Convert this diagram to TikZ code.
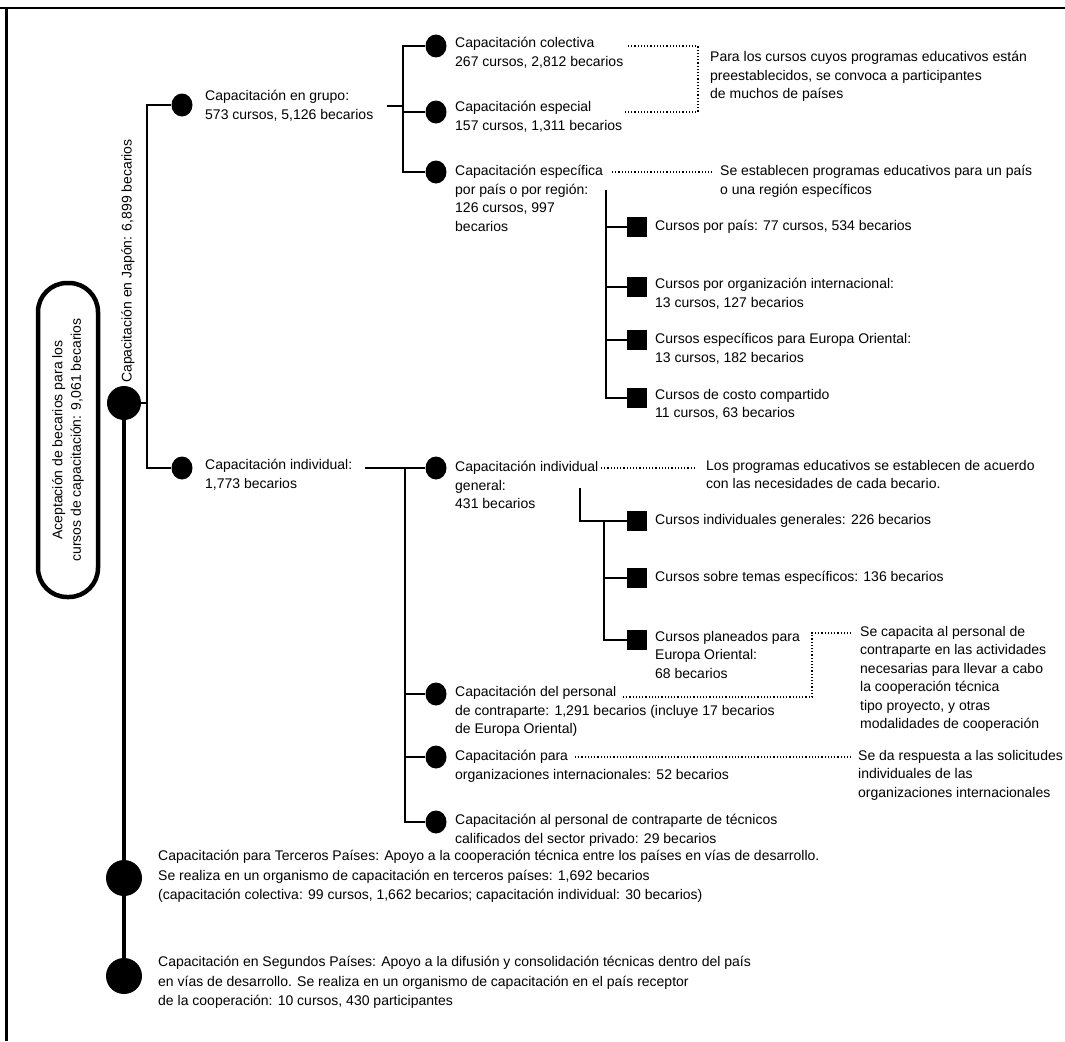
\documentclass[tikz,border=0pt]{standalone}
\usepackage{fontspec}
\setmainfont{Liberation Sans}
\usetikzlibrary{shapes.geometric}
\newcommand\lblfont{\fontsize{14}{18.5}\selectfont}
\begin{document}
\begin{tikzpicture}[x=1pt,y=-1pt,
  bigdot/.style={circle,fill=black,inner sep=0,minimum size=34pt},
  lowdot/.style={circle,fill=black,inner sep=0,minimum size=36pt},
  dotS/.style={ellipse,fill=black,inner sep=0,minimum width=21pt,minimum height=23pt},
  sq/.style={rectangle,fill=black,inner sep=0,minimum size=20pt},
  txt/.style={anchor=north west,inner sep=0,align=left,font=\lblfont},
  ln/.style={line width=2.5pt},
  trunk/.style={line width=4pt},
  dl/.style={dotted,line width=1.2pt}]
\useasboundingbox (0,0) rectangle (1065,1041);
% frame
\coordinate (ftl) at (6,8); \coordinate (ftr) at (1065,8); \coordinate (fbl) at (6,1041);
\coordinate (fl0) at (0,8);
\draw[line width=2pt] (fl0) -- (ftr);
\draw[line width=3pt] (ftl) -- (fbl);
% pill
\draw[line width=4.5pt,rounded corners=29pt] (38,283) rectangle (98,597);
\node[rotate=90,align=center,font=\lblfont,inner sep=0] (pill) at (68,440)
  {Aceptación de becarios para los\\cursos de capacitación: 9,061 becarios};
% dots
\node[bigdot] (root) at (124,403) {};
\node[dotS] (grp) at (182,105) {};
\node[dotS] (ind) at (182,468) {};
\node[dotS] (col) at (436,46) {};
\node[dotS] (esp) at (436,112) {};
\node[dotS] (epa) at (436,172) {};
\node[sq] (s1) at (637,227) {};
\node[sq] (s2) at (637,287) {};
\node[sq] (s3) at (637,340) {};
\node[sq] (s4) at (637,398) {};
\node[dotS] (ig) at (436,468) {};
\node[sq] (t1) at (637,521) {};
\node[sq] (t2) at (637,578) {};
\node[sq] (t3) at (637,640) {};
\node[dotS] (dp) at (436,694) {};
\node[dotS] (op) at (436,757) {};
\node[dotS] (ap) at (436,822) {};
\node[lowdot] (ter) at (124,878) {};
\node[lowdot] (seg) at (124,976) {};
% Japan text
\node[rotate=90,font=\lblfont,inner sep=0] (jap) at (128,261) {Capacitación en Japón: 6,899 becarios};
% connectors: root and Japan
\coordinate (rl) at (107,403); \coordinate (rr) at (147,403);
\coordinate (jtop) at (147,105); \coordinate (jbot) at (147,468);
\draw[ln] (rl) -- (rr);
\draw[ln] (grp) -- (jtop) -- (jbot) -- (ind);
\draw[trunk] (root) -- (ter);
\draw[trunk] (ter) -- (seg);
% group branch
\coordinate (g1) at (387,106); \coordinate (g2) at (403,106);
\coordinate (gt) at (403,46); \coordinate (gm) at (403,112); \coordinate (gb) at (403,172);
\draw[ln] (g1) -- (g2);
\draw[ln] (col) -- (gt) -- (gb) -- (epa);
\draw[ln] (gm) -- (esp);
% especifica branch
\coordinate (e0) at (606,190); \coordinate (e1) at (606,227); \coordinate (e2) at (606,287);
\coordinate (e3) at (606,340); \coordinate (e4) at (606,398);
\draw[ln] (e0) -- (e4) -- (s4);
\draw[ln] (e1) -- (s1);
\draw[ln] (e2) -- (s2);
\draw[ln] (e3) -- (s3);
% individual branch
\coordinate (i0) at (365,468); \coordinate (it) at (405,468); \coordinate (ib) at (405,822);
\coordinate (im) at (405,694); \coordinate (in) at (405,757);
\draw[ln] (i0) -- (ig);
\draw[ln] (it) -- (ib) -- (ap);
\draw[ln] (im) -- (dp);
\draw[ln] (in) -- (op);
% individual general branch
\coordinate (k0) at (580,488); \coordinate (k1) at (580,521);
\coordinate (k2) at (604,521); \coordinate (k3) at (604,640); \coordinate (k4) at (604,578);
\draw[ln] (k0) -- (k1) -- (t1);
\draw[ln] (k2) -- (k3) -- (t3);
\draw[ln] (k4) -- (t2);
% dotted leaders
\coordinate (d1) at (628,46); \coordinate (d2) at (698,46); \coordinate (d3) at (698,112); \coordinate (d4) at (624,112);
\draw[dl] (d1) -- (d2) -- (d3) -- (d4);
\coordinate (d5) at (612,172); \coordinate (d6) at (713,172);
\draw[dl] (d5) -- (d6);
\coordinate (d7) at (601,468); \coordinate (d8) at (695,468);
\draw[dl] (d7) -- (d8);
\coordinate (d9) at (623,697); \coordinate (d10) at (812,697); \coordinate (d11) at (812,633); \coordinate (d12) at (852,633);
\draw[dl] (d9) -- (d10) -- (d11) -- (d12);
\coordinate (d13) at (575,757); \coordinate (d14) at (852,757);
\draw[dl] (d13) -- (d14);
% texts
\node[txt] (tgrp) at (205,90) {Capacitación en grupo:\\573 cursos, 5,126 becarios};
\node[txt] (tind) at (205,459) {Capacitación individual:\\1,773 becarios};
\node[txt] (tcol) at (455,37) {Capacitación colectiva\\267 cursos, 2,812 becarios};
\node[txt] (tesp) at (455,101) {Capacitación especial\\157 cursos, 1,311 becarios};
\node[txt] (tepa) at (455,165) {Capacitación específica\\por país o por región:\\126 cursos, 997\\becarios};
\node[txt] (dsc1) at (710,51) {Para los cursos cuyos programas educativos están\\preestablecidos, se convoca a participantes\\de muchos de países};
\node[txt] (dsc2) at (720,165) {Se establecen programas educativos para un país\\o una región específicos};
\node[txt] (ts1) at (655,220) {Cursos por país: 77 cursos, 534 becarios};
\node[txt] (ts2) at (655,278) {Cursos por organización internacional:\\13 cursos, 127 becarios};
\node[txt] (ts3) at (655,333) {Cursos específicos para Europa Oriental:\\13 cursos, 182 becarios};
\node[txt] (ts4) at (655,389) {Cursos de costo compartido\\11 cursos, 63 becarios};
\node[txt] (tig) at (455,461) {Capacitación individual\\general:\\431 becarios};
\node[txt] (dsc3) at (706,460) {Los programas educativos se establecen de acuerdo\\con las necesidades de cada becario.};
\node[txt] (tt1) at (655,514) {Cursos individuales generales: 226 becarios};
\node[txt] (tt2) at (655,571) {Cursos sobre temas específicos: 136 becarios};
\node[txt] (tt3) at (655,631) {Cursos planeados para\\Europa Oriental:\\68 becarios};
\node[txt] (dsc4) at (860,626) {Se capacita al personal de\\contraparte en las actividades\\necesarias para llevar a cabo\\la cooperación técnica\\tipo proyecto, y otras\\modalidades de cooperación};
\node[txt] (tdp) at (455,686) {Capacitación del personal\\de contraparte: 1,291 becarios (incluye 17 becarios\\de Europa Oriental)};
\node[txt] (top) at (455,750) {Capacitación para\\organizaciones internacionales: 52 becarios};
\node[txt] (dsc5) at (858,750) {Se da respuesta a las solicitudes\\individuales de las\\organizaciones internacionales};
\node[txt] (tap) at (455,814) {Capacitación al personal de contraparte de técnicos\\calificados del sector privado: 29 becarios};
\node[txt,font=\fontsize{14}{19.5}\selectfont] (tter) at (158,850) {Capacitación para Terceros Países: Apoyo a la cooperación técnica entre los países en vías de desarrollo.\\Se realiza en un organismo de capacitación en terceros países: 1,692 becarios\\(capacitación colectiva: 99 cursos, 1,662 becarios; capacitación individual: 30 becarios)};
\node[txt,font=\fontsize{14}{19.5}\selectfont] (tseg) at (158,956) {Capacitación en Segundos Países: Apoyo a la difusión y consolidación técnicas dentro del país\\en vías de desarrollo. Se realiza en un organismo de capacitación en el país receptor\\de la cooperación: 10 cursos, 430 participantes};
\end{tikzpicture}
\end{document}
